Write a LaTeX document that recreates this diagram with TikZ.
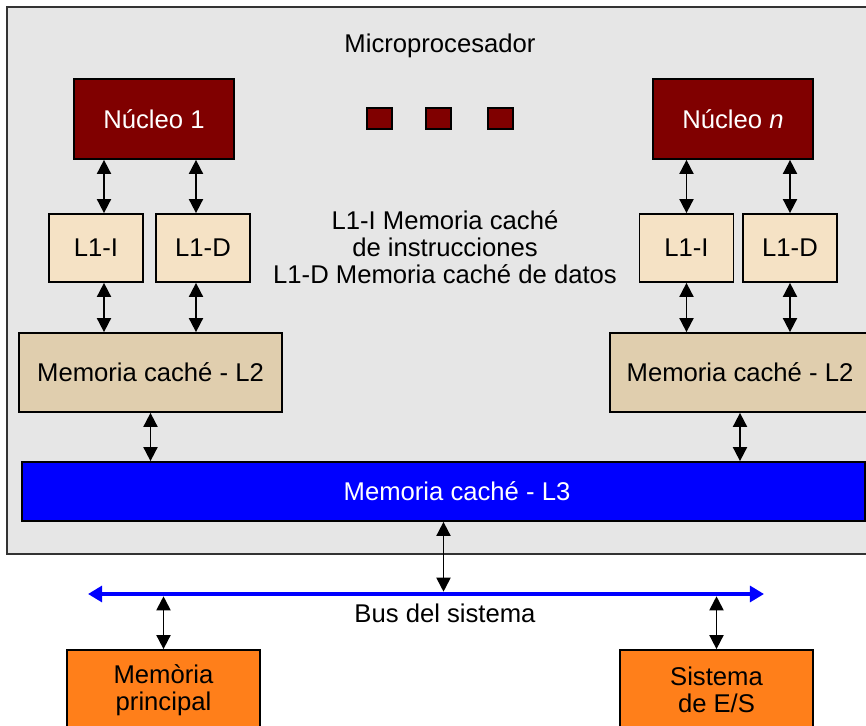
\documentclass[tikz,border=0pt]{standalone}
\usepackage{fontspec}
\setmainfont{Liberation Sans}
\usetikzlibrary{arrows.meta}
\definecolor{chipGray}{HTML}{E6E6E6}
\definecolor{coreRed}{HTML}{800000}
\definecolor{lOneFill}{HTML}{F5E2C5}
\definecolor{lTwoFill}{HTML}{E0CEAE}
\definecolor{lThreeBlue}{HTML}{0000FF}
\definecolor{ioOrange}{HTML}{FF7F1A}
\begin{document}
\begin{tikzpicture}[x=0.02cm,y=-0.02cm,
    font=\fontsize{14.6}{15.2}\selectfont,
    box/.style={draw=black,line width=1pt,inner sep=0pt,align=center},
    core/.style={box,fill=coreRed,text=white,minimum width=3.2cm,minimum height=1.6cm},
    lone/.style={box,fill=lOneFill,minimum width=1.88cm,minimum height=1.36cm},
    ltwo/.style={box,fill=lTwoFill,minimum width=5.26cm,minimum height=1.58cm},
    lthreebox/.style={box,fill=lThreeBlue,text=white,minimum width=16.86cm,minimum height=1.18cm},
    dotbox/.style={box,fill=coreRed,minimum width=0.5cm,minimum height=0.42cm},
    iobox/.style={box,fill=ioOrange,minimum width=3.86cm,minimum height=1.6cm},
    dbl/.style={{Triangle[length=8pt,width=8pt]}-{Triangle[length=8pt,width=8pt]},line width=1pt},
    busline/.style={{Triangle[length=8pt,width=9pt]}-{Triangle[length=8pt,width=9pt]},line width=2.3pt,draw=lThreeBlue}]
    \clip (0,0) rectangle (866,726);

    \draw[fill=chipGray,draw=black!80,line width=1pt] (7,7) rectangle (880,554);
    \node (title) at (440,46) {Microprocesador};

    \node[core] (coreA) at (154,119) {Núcleo 1};
    \node[core] (coreB) at (733,119) {Núcleo \textit{n}};
    \node[dotbox] (dotA) at (379.5,118.5) {};
    \node[dotbox] (dotB) at (438.5,118.5) {};
    \node[dotbox] (dotC) at (500.5,118.5) {};

    \node[lone] (l1iA) at (96,248) {L1-I};
    \node[lone] (l1dA) at (203,248) {L1-D};
    \node[lone] (l1iB) at (686.5,248) {L1-I};
    \node[lone] (l1dB) at (790,248) {L1-D};
    \node[align=center] (legend) at (445,247)
        {L1-I Memoria caché\\de instrucciones\\L1-D Memoria caché de datos};

    \node[ltwo] (ltwoA) at (150.5,372.5) {Memoria caché - L2};
    \node[ltwo,minimum width=5.2cm] (ltwoB) at (740,372.5) {Memoria caché - L2};
    \node[lthreebox] (lthree) at (443.5,491.5) {\hspace{0.54cm}Memoria caché - L3};

    \coordinate (busL) at (88,594);
    \coordinate (busR) at (764,594);
    \draw[busline] (busL) -- (busR);
    \node (buslabel) at (445,613.5) {Bus del sistema};

    \node[iobox] (memP) at (163.5,690) {Memòria\\principal};
    \node[iobox] (ioSys) at (716.5,690) {Sistema\\de E/S};

    \draw[dbl] ([xshift=0.16cm]l1iA.north) -- ([xshift=0.16cm]l1iA.north |- coreA.south);
    \draw[dbl] ([xshift=-0.14cm]l1dA.north) -- ([xshift=-0.14cm]l1dA.north |- coreA.south);
    \draw[dbl] (l1iB.north) -- (l1iB.north |- coreB.south);
    \draw[dbl] (l1dB.north) -- (l1dB.north |- coreB.south);

    \draw[dbl] ([xshift=0.16cm]l1iA.south) -- ([xshift=0.16cm]l1iA.south |- ltwoA.north);
    \draw[dbl] ([xshift=-0.14cm]l1dA.south) -- ([xshift=-0.14cm]l1dA.south |- ltwoA.north);
    \draw[dbl] (l1iB.south) -- (l1iB.south |- ltwoB.north);
    \draw[dbl] (l1dB.south) -- (l1dB.south |- ltwoB.north);

    \draw[dbl] (ltwoA.south) -- (ltwoA.south |- lthree.north);
    \draw[dbl] (ltwoB.south) -- (ltwoB.south |- lthree.north);

    \draw[dbl,shorten >=1.3pt] (lthree.south) -- (lthree.south |- busL);
    \draw[dbl,shorten >=1.3pt] (memP.north) -- (memP.north |- busL);
    \draw[dbl,shorten >=1.3pt] (ioSys.north) -- (ioSys.north |- busL);
\end{tikzpicture}
\end{document}
